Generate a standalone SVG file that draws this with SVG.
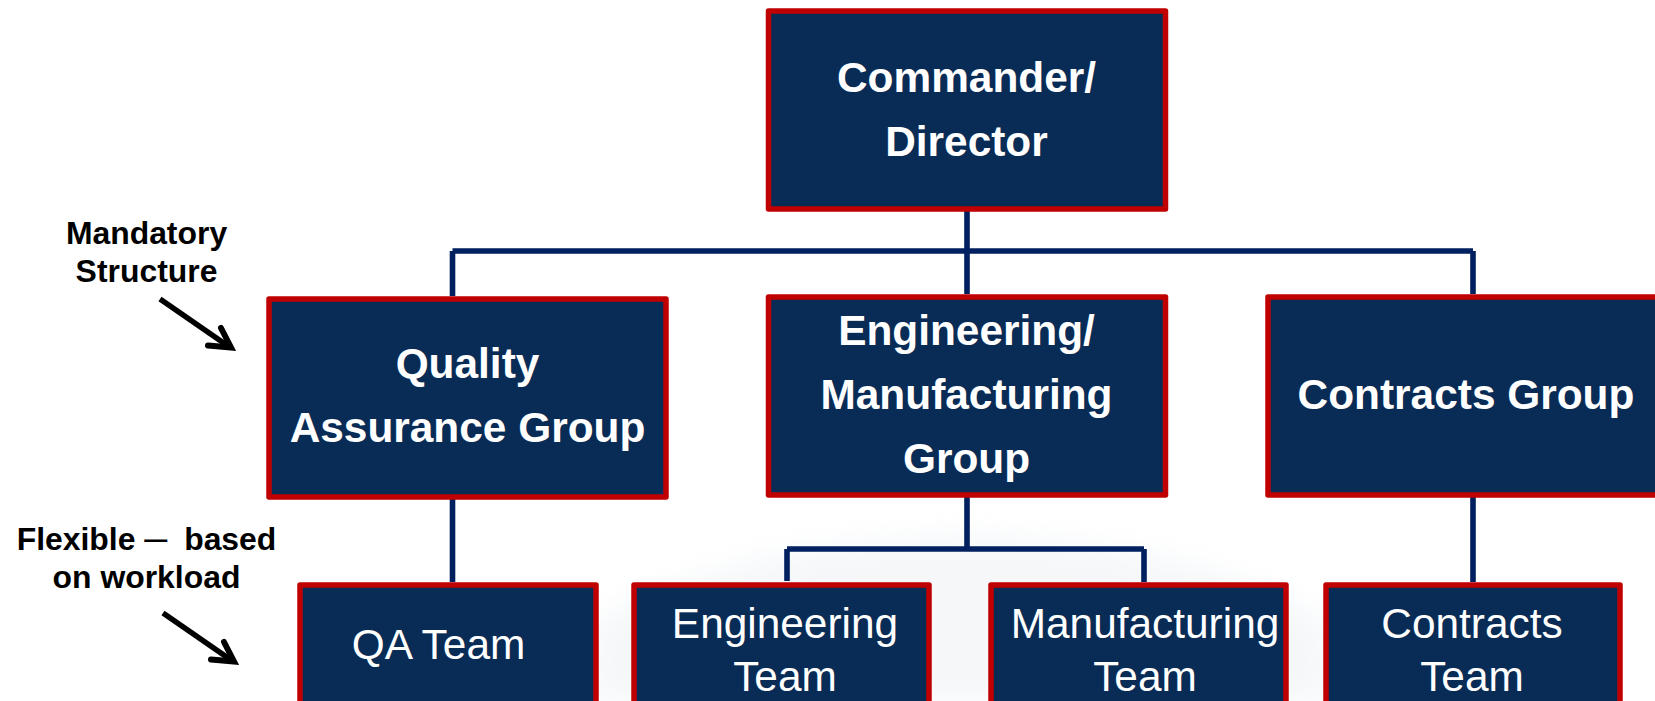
<svg xmlns="http://www.w3.org/2000/svg" width="1655" height="701" viewBox="0 0 1655 701">
<defs><filter id="soft" x="-10%" y="-30%" width="120%" height="160%"><feGaussianBlur stdDeviation="14"/></filter></defs>
<style>
.box{fill:#092c56;stroke:#c00000;stroke-width:5.5;stroke-linejoin:round}
.conn{fill:none;stroke:#002060;stroke-width:5.6}
.shaft{fill:none;stroke:#000;stroke-width:5.5}
.head{fill:none;stroke:#000;stroke-width:6;stroke-linecap:round;stroke-linejoin:miter;stroke-miterlimit:10}
.b{font-family:"Liberation Sans",Arial,sans-serif;font-weight:700;font-size:42.4px;fill:#fff;text-anchor:middle}
.r{font-family:"Liberation Sans",Arial,sans-serif;font-size:42.4px;fill:#fff;text-anchor:middle}
.l{font-family:"Liberation Sans",Arial,sans-serif;font-weight:700;font-size:31.9px;fill:#000;text-anchor:middle}
</style>
<rect width="1655" height="701" fill="#fff"/>
<path d="M590 701V625Q740 540 960 535Q1200 540 1330 625V701Z" fill="#e9eef3" opacity=".45" filter="url(#soft)"/>
<g id="connectors">
<path class="conn" d="M967 211V294M452.500 251H1473M452.500 251V296M1473 251V294M452.500 499V582M1473 497V582M967 497V549M787 549H1144M787 549V581M1144 549V582"/>
</g>
<g id="commander"><rect class="box" x="768.500" y="11" width="397" height="198"/><text class="b" x="966.500" y="92">Commander/</text><text class="b" x="966.500" y="156">Director</text></g>
<g id="qa-group"><rect class="box" x="269" y="299" width="397" height="198"/><text class="b" x="467.500" y="378">Quality</text><text class="b" x="467.500" y="442">Assurance Group</text></g>
<g id="eng-group"><rect class="box" x="768.500" y="297" width="397" height="198"/><text class="b" x="966.500" y="345">Engineering/</text><text class="b" x="966.500" y="409">Manufacturing</text><text class="b" x="966.500" y="473">Group</text></g>
<g id="contracts-group"><rect class="box" x="1268" y="297" width="400" height="198"/><text class="b" x="1466" y="409">Contracts Group</text></g>
<g id="qa-team"><rect class="box" x="300" y="585" width="296" height="130"/><text class="r" x="438.500" y="659">QA Team</text></g>
<g id="eng-team"><rect class="box" x="634" y="585" width="295" height="130"/><text class="r" x="785" y="638">Engineering</text><text class="r" x="785" y="691">Team</text></g>
<g id="mfg-team"><rect class="box" x="991" y="585" width="295" height="130"/><text class="r" x="1145" y="638">Manufacturing</text><text class="r" x="1145" y="691">Team</text></g>
<g id="contracts-team"><rect class="box" x="1326" y="585" width="294" height="130"/><text class="r" x="1472" y="638">Contracts</text><text class="r" x="1472" y="691">Team</text></g>
<g id="label-mandatory"><text class="l" x="146.500" y="244">Mandatory</text><text class="l" x="146.500" y="282">Structure</text><path class="shaft" d="M160 299L228 346"/><path class="head" d="M208 345.500L231 347.500L221 328"/></g>
<g id="label-flexible"><text class="l" x="146.500" y="550">Flexible <tspan font-size="23" dy="-3">—</tspan>  <tspan dx="8" dy="3">based</tspan></text><text class="l" x="146.500" y="588">on workload</text><path class="shaft" d="M163 613L231 660"/><path class="head" d="M211 659.500L234 661.500L224 642"/></g>
</svg>
